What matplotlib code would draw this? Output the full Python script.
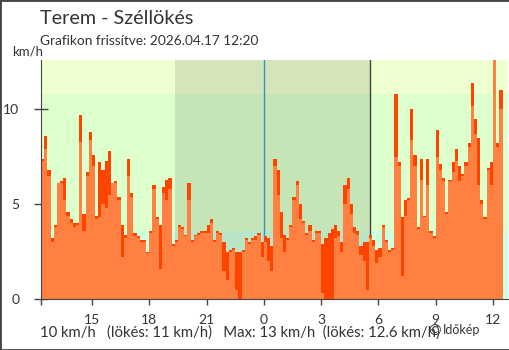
import numpy as np
import matplotlib
matplotlib.use("Agg")
import matplotlib.pyplot as plt
from matplotlib.patches import Rectangle

plt.rcParams['font.family'] = ['Lato', 'DejaVu Sans']

# 10 perces mintavétel, 12:20-tól (előző nap) 12:20-ig
start_hour = 12 + 20 / 60
step_hour = 10 / 60

# átlagos szélsebesség (km/h)
wind = [
    7.3, 7.9, 6.5, 3.0, 3.8, 6.1, 6.1, 5.2, 4.4, 4.0,
    3.8, 3.9, 8.3, 3.6, 6.5, 8.4, 7.0, 4.2, 4.3, 5.0,
    4.8, 5.5, 6.1, 6.1, 5.2, 2.2, 3.2, 6.5, 5.4, 3.3,
    3.2, 3.0, 3.0, 2.4, 3.5, 5.8, 4.2, 1.6, 5.6, 5.2,
    5.8, 2.8, 3.0, 3.8, 3.7, 3.3, 5.2, 3.0, 3.3, 3.4,
    3.5, 3.5, 3.5, 4.0, 3.0, 3.5, 3.4, 1.5, 1.0, 2.5,
    2.6, 0.5, 0.0, 2.5, 3.1, 2.9, 3.1, 3.1, 3.4, 2.2,
    3.0, 2.0, 1.5, 7.0, 5.5, 3.2, 2.5, 3.1, 3.8, 5.2,
    6.0, 4.2, 4.0, 3.4, 3.6, 3.0, 3.5, 3.5, 0.3, 0.0,
    0.0, 0.0, 3.2, 3.3, 2.5, 5.0, 5.8, 4.5, 3.5, 3.4,
    2.3, 2.0, 0.5, 3.2, 2.8, 1.9, 2.2, 3.8, 3.0, 2.5,
    2.6, 7.5, 7.0, 1.2, 4.4, 5.2, 8.4, 7.0, 3.7, 6.3,
    4.3, 6.0, 3.5, 3.2, 7.5, 6.8, 6.2, 4.5, 6.2, 6.7,
    7.3, 6.2, 6.5, 7.0, 8.0, 10.2, 8.7, 6.0, 5.0, 4.2,
    6.8, 6.0, 13.0, 8.0, 10.0,
]

# széllökés (km/h)
gust = [
    7.4, 8.6, 6.8, 3.2, 3.9, 6.1, 6.2, 6.4, 4.6, 4.2,
    4.0, 4.0, 9.7, 4.5, 6.7, 8.8, 7.6, 4.4, 7.2, 6.8,
    7.3, 7.8, 6.1, 6.2, 5.4, 3.9, 3.4, 7.4, 5.6, 3.5,
    3.3, 3.1, 3.1, 2.5, 3.6, 6.0, 4.3, 3.9, 5.9, 6.3,
    6.4, 2.9, 3.1, 3.9, 3.8, 3.4, 6.1, 3.1, 3.4, 3.5,
    3.6, 3.6, 3.9, 4.2, 3.1, 3.6, 3.5, 3.0, 2.5, 2.6,
    2.7, 2.5, 2.5, 2.6, 3.2, 3.0, 3.2, 3.3, 3.5, 3.0,
    3.3, 3.2, 2.8, 7.4, 6.8, 4.6, 3.4, 3.2, 3.9, 5.4,
    6.2, 5.0, 4.1, 3.5, 3.9, 3.1, 3.6, 3.6, 2.9, 3.2,
    3.5, 3.7, 3.9, 3.6, 3.0, 6.0, 6.4, 5.0, 3.8, 3.6,
    2.8, 3.0, 3.0, 3.4, 3.1, 2.6, 2.7, 3.9, 3.1, 2.6,
    2.7, 10.8, 7.2, 4.3, 5.2, 5.3, 10.0, 7.6, 3.8, 7.4,
    4.4, 7.4, 3.6, 3.3, 8.9, 7.1, 6.4, 4.6, 6.3, 7.2,
    7.9, 7.0, 6.6, 7.2, 8.2, 11.4, 9.5, 8.5, 5.2, 4.3,
    6.9, 7.2, 12.6, 8.2, 11.0,
]

hour_ticks = [15, 18, 21, 24, 27, 30, 33, 36]
hour_labels = ['15', '18', '21', '0', '3', '6', '9', '12']
speed_ticks = [0, 5, 10]

# sávhatárok (km/h) és éjszaka (napnyugta - napkelte)
bands = [(0, 3.6, '#ccffdd'), (3.6, 10.8, '#ddffcc'), (10.8, 12.6, '#eeffd0')]
sunset, sunrise = 19 + 21 / 60, 29 + 34 / 60

title = 'Terem - Széllökés'
subtitle = 'Grafikon frissítve: 2026.04.17 12:20'
summary = '10 km/h   (lökés: 11 km/h)   Max: 13 km/h  (lökés: 12.6 km/h)'

text_color = '#333333'

fig = plt.figure(figsize=(5.1, 3.5), dpi=100)
ax = fig.add_axes([41 / 510, 51 / 350, 467 / 510, 239 / 350])

for lo, hi, c in bands:
    ax.axhspan(lo, hi, color=c, lw=0, zorder=0)
ax.axvspan(sunset, sunrise, color='black', alpha=0.1, lw=0, zorder=0.5)
ax.axvline(24, color='#3a8fc4', lw=1, zorder=0.8)
ax.axvline(sunrise, color='#444444', lw=1, zorder=0.8)

edges = start_hour + step_hour * np.arange(len(wind) + 1)
ax.fill_between(edges, np.append(gust, gust[-1]), step='post',
                color='#ff4400', lw=0, zorder=1)
ax.fill_between(edges, np.append(wind, wind[-1]), step='post',
                color='#ff8040', lw=0, zorder=2)

ax.set_xlim(start_hour, start_hour + 24.45)
ax.set_ylim(0, 12.6)

ax.set_xticks([start_hour] + hour_ticks)
ax.set_xticklabels([''] + hour_labels)
ax.set_yticks(speed_ticks)
ax.set_yticklabels([str(v) for v in speed_ticks])
ax.tick_params(axis='x', direction='out', length=4, width=1, color='#444444',
               labelsize=10, labelcolor=text_color, pad=7)
ax.tick_params(axis='y', direction='inout', length=9.5, width=1, color='#444444',
               labelsize=10, labelcolor=text_color, pad=11)
ax.get_xticklines()[2 * 4].set_color('#3a8fc4')

for side in ['top', 'right']:
    ax.spines[side].set_visible(False)
for side in ['left', 'bottom']:
    ax.spines[side].set_color('#444444')
    ax.spines[side].set_zorder(3)

fig.text(40 / 510, 1 - 18 / 350, title, fontsize=14.2, color=text_color, va='center')
fig.text(40 / 510, 1 - 41 / 350, subtitle, fontsize=9.8, color=text_color, va='center')
fig.text(12 / 510, 1 - 52 / 350, 'km/h', fontsize=9.5, color=text_color, va='center')
fig.text(40 / 510, 1 - 333 / 350, summary, fontsize=10.7, color=text_color, va='center')
fig.text(428 / 510, 1 - 332 / 350, '©', fontsize=11, color=text_color, va='center')
fig.text(443 / 510, 1 - 330 / 350, 'Időkép', fontsize=9, color=text_color, va='center')

fig.patches.append(Rectangle((0, 0), 1, 1, transform=fig.transFigure, fill=False,
                             edgecolor='#444444', lw=2))

fig.savefig('out.png', dpi=100)
